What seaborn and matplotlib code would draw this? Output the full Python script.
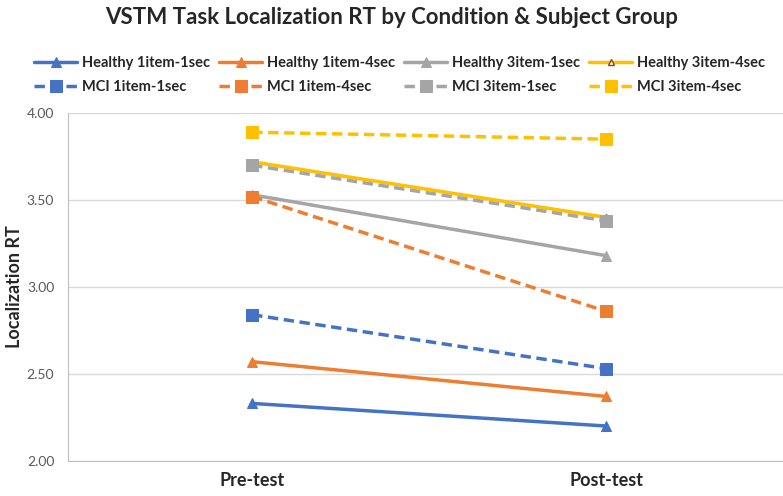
import matplotlib
matplotlib.use("Agg")
import matplotlib.pyplot as plt
import seaborn as sns
import pandas as pd

tests = ["Pre-test", "Post-test"]
series_names = ["Healthy 1item-1sec", "Healthy 1item-4sec", "Healthy 3item-1sec", "Healthy 3item-4sec",
                "MCI 1item-1sec", "MCI 1item-4sec", "MCI 3item-1sec", "MCI 3item-4sec"]
healthy_1i_1s = [2.33, 2.20]
healthy_1i_4s = [2.57, 2.37]
healthy_3i_1s = [3.53, 3.18]
healthy_3i_4s = [3.72, 3.40]
mci_1i_1s = [2.84, 2.53]
mci_1i_4s = [3.52, 2.86]
mci_3i_1s = [3.70, 3.38]
mci_3i_4s = [3.89, 3.85]
values = [healthy_1i_1s, healthy_1i_4s, healthy_3i_1s, healthy_3i_4s,
          mci_1i_1s, mci_1i_4s, mci_3i_1s, mci_3i_4s]

rows = []
for name, vals in zip(series_names, values):
    for i, (t, v) in enumerate(zip(tests, vals)):
        rows.append({"Test": t, "x": i, "RT": v, "Series": name})
df = pd.DataFrame(rows)

cols = ["#4472C4", "#ED7D31", "#A5A5A5", "#FFC000"]
palette = {n: cols[i % 4] for i, n in enumerate(series_names)}

sns.set_style("white")
plt.rcParams['font.family'] = ['Lato', 'DejaVu Sans']

fig = plt.figure(figsize=(7.83, 4.96), dpi=100)
ax = fig.add_axes([0.087, 0.071, 0.913, 0.701])

for i, name in enumerate(series_names):
    sub = df[df["Series"] == name]
    healthy = name.startswith("Healthy")
    ls = "-" if healthy else (0, (3, 1.6))
    if healthy:
        if i == 3:
            mk = dict(marker="^", markersize=5, markerfacecolor="white", markeredgecolor="#8B4513", markeredgewidth=1)
        else:
            mk = dict(marker="^", markersize=7, markeredgecolor=palette[name])
    else:
        mk = dict(marker="s", markersize=8, markeredgecolor=palette[name])
    sns.lineplot(data=sub, x="x", y="RT", color=palette[name], linewidth=2.5,
                 linestyle=ls, label=name, ax=ax, legend=False, **mk)

ax.set_xlim(-0.52, 1.5)
ax.set_ylim(2.0, 4.0)
ax.set_yticks([2.0, 2.5, 3.0, 3.5, 4.0])
ax.set_yticklabels([f"{v:.2f}" for v in [2.0, 2.5, 3.0, 3.5, 4.0]], color="#595959", fontsize=10)
ax.set_xticks([0, 1])
ax.set_xticklabels(tests, fontsize=13, fontweight="bold")
ax.tick_params(axis="y", length=0, pad=10)
ax.tick_params(axis="x", length=0, pad=8)
ax.yaxis.grid(True, color="#D9D9D9", linewidth=1)
for s in ["top", "right"]:
    ax.spines[s].set_visible(False)
ax.spines["left"].set_color("#BFBFBF")
ax.spines["bottom"].set_color("#BFBFBF")
ax.set_xlabel("")
ax.set_ylabel("Localization RT", fontsize=13, fontweight="bold", labelpad=3)

handles, labels = ax.get_legend_handles_labels()
order = [0, 4, 1, 5, 2, 6, 3, 7]
fig.legend([handles[k] for k in order], [labels[k] for k in order], ncol=4, loc="upper center",
           bbox_to_anchor=(0.51, 0.913),
           frameon=False, handlelength=3, columnspacing=0.6, handletextpad=0.3, labelspacing=0.7,
           prop={"weight": "bold", "size": 10.5})
fig.suptitle("VSTM Task Localization RT by Condition & Subject Group", fontsize=16,
             fontweight="bold", y=0.985)

fig.savefig("out.png", dpi=100)
